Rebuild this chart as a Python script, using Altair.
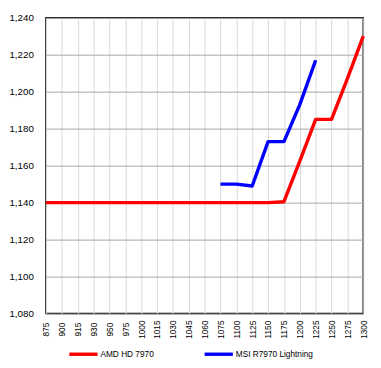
import altair as alt
import pandas as pd

categories = ["875", "900", "915", "930", "950", "975", "1000", "1015", "1030", "1045",
              "1060", "1075", "1100", "1125", "1150", "1175", "1200", "1225", "1250",
              "1275", "1300"]
amd_hd_7970 = [1.140, 1.140, 1.140, 1.140, 1.140, 1.140, 1.140, 1.140, 1.140, 1.140,
               1.140, 1.140, 1.140, 1.140, 1.140, 1.1405, 1.1625, 1.185, 1.185,
               1.207, 1.230]
msi_r7970 = [None, None, None, None, None, None, None, None, None, None,
             None, 1.150, 1.150, 1.149, 1.173, 1.173, 1.193, 1.217, None,
             None, None]
series_names = ["AMD HD 7970", "MSI R7970 Lightning"]
series_colors = ["#FF0000", "#0000FF"]
y_ticks = [1.08, 1.10, 1.12, 1.14, 1.16, 1.18, 1.20, 1.22, 1.24]

rows = []
for name, vals in zip(series_names, [amd_hd_7970, msi_r7970]):
    for c, v in zip(categories, vals):
        if v is not None:
            rows.append({"clock": c, "voltage": v, "series": name})
df = pd.DataFrame(rows)

font = "Liberation Sans"

chart = alt.Chart(df).mark_line(strokeWidth=3.5, strokeJoin="round").encode(
    x=alt.X("clock:N", sort=categories, scale=alt.Scale(type="point", padding=0, domain=categories),
            axis=alt.Axis(title=None, labelAngle=270, labelAlign="center", labelBaseline="middle",
                          labelPadding=16, ticks=False, domain=False, gridColor="#d9d9d9",
                          grid=True, labelFont=font, labelFontSize=8.5, labelColor="#000000",
                          labelOverlap=False)),
    y=alt.Y("voltage:Q", scale=alt.Scale(domain=[1.08, 1.24], nice=False, zero=False),
            axis=alt.Axis(title=None, values=y_ticks, ticks=False, domain=False,
                          labelExpr="replace(format(datum.value, '.3f'), '.', ',')",
                          labelPadding=13, gridColor="#a6a6a6", labelFont=font,
                          labelFontSize=10, labelColor="#000000")),
    color=alt.Color("series:N", scale=alt.Scale(domain=series_names, range=series_colors),
                    legend=alt.Legend(title=None, orient="none", direction="horizontal",
                                      legendX=22, legendY=329, symbolType="stroke",
                                      symbolSize=841, symbolStrokeWidth=3.5,
                                      labelFont=font, labelFontSize=8.5, labelColor="#000000",
                                      labelOffset=1, columnPadding=45, padding=0)),
).properties(
    width=326, height=304,
    padding={"left": 0, "top": 0, "right": 5, "bottom": 5},
).configure_view(
    stroke="#000000", strokeWidth=1.5
)

chart.save("out.html", embed_options={"renderer": "svg", "actions": False})
